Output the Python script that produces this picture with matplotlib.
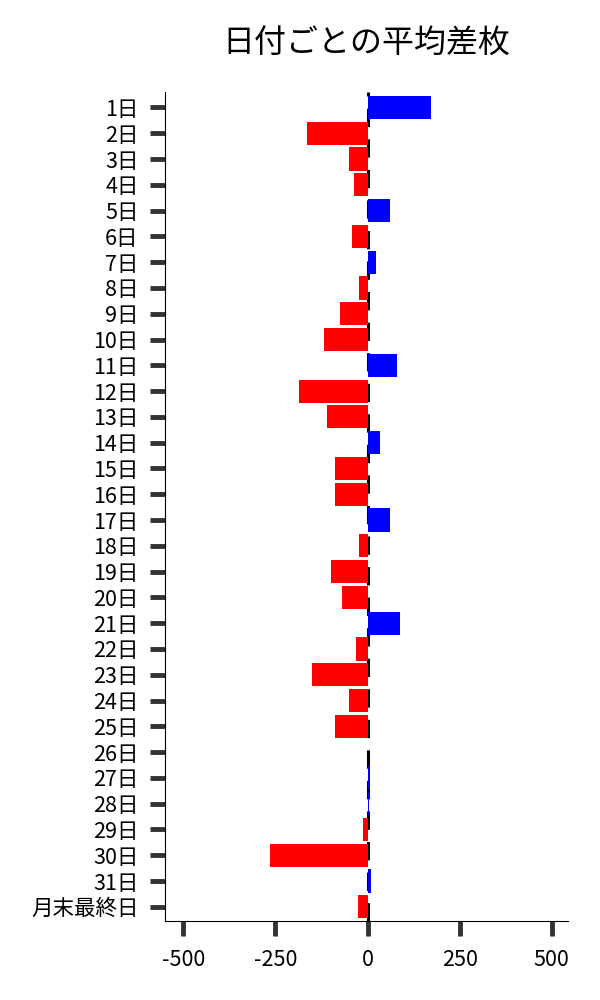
import matplotlib
matplotlib.use('Agg')
from matplotlib import pyplot as plt
import numpy as np

plt.rcParams['font.family'] = ['Noto Sans CJK JP', 'DejaVu Sans']
plt.rcParams['axes.unicode_minus'] = False

days = [f'{i}日' for i in range(1, 32)] + ['月末最終日']
diff = [173, -165, -49, -38, 60, -43, 22, -22, -76, -119,
        79, -187, -111, 35, -87, -89, 60, -24, -98, -68,
        87, -30, -152, -49, -87, 1, 8, 4, -11, -265,
        10, -26]

colors = ['blue' if v >= 0 else 'red' for v in diff]
y_pos = np.arange(len(days))

fig = plt.figure(figsize=(6, 10), dpi=100)
ax = fig.add_axes([0.275, 0.079, 0.672, 0.829])

ax.barh(y_pos, diff, height=0.9, color=colors, zorder=2)
# dashed zero line sits behind the bars
ax.axvline(0, color='black', linestyle=(0, (6, 4)), linewidth=2.2, zorder=1)

ax.set_yticks(y_pos)
ax.set_yticklabels(days)
ax.set_ylim(len(days) - 0.45, -0.6)
ax.set_xlim(-550, 545)
ax.set_xticks([-500, -250, 0, 250, 500])

ax.tick_params(axis='both', labelsize=15.5, length=11, width=3.5, color='#333333')
ax.tick_params(axis='y', pad=8)
ax.tick_params(axis='x', pad=9)

ax.spines['top'].set_visible(False)
ax.spines['right'].set_visible(False)

ax.set_title('日付ごとの平均差枚', fontsize=23, pad=28)

plt.savefig('out.png', dpi=100)
